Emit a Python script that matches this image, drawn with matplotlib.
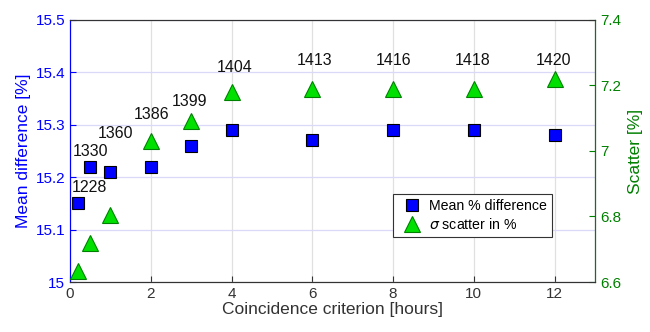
import matplotlib
matplotlib.use("Agg")
import matplotlib.pyplot as plt

plt.rcParams['font.family'] = ['Liberation Sans', 'DejaVu Sans']
plt.rcParams['mathtext.fontset'] = 'dejavusans'

# coincidence window in hours
hours = [0.2, 0.5, 1, 2, 3, 4, 6, 8, 10, 12]
mean_diff = [15.15, 15.22, 15.21, 15.22, 15.26, 15.29, 15.27, 15.29, 15.29, 15.28]
scatter = [6.635, 6.72, 6.805, 7.03, 7.09, 7.18, 7.19, 7.19, 7.19, 7.22]
# number of coincident pairs for each window
n_pairs = [1228, 1330, 1360, 1386, 1399, 1404, 1413, 1416, 1418, 1420]
label_x = [0.48, 0.5, 1.13, 2.02, 2.96, 4.07, 6.05, 8.0, 9.98, 11.98]
label_y = [15.166, 15.234, 15.269, 15.305, 15.33, 15.394, 15.408, 15.408, 15.408, 15.408]

blue = '#0000ff'
green = '#008000'

fig, ax = plt.subplots(figsize=(6.5, 3.32), dpi=100)
fig.subplots_adjust(left=0.1077, right=0.9154, top=0.94, bottom=0.1506)
ax2 = ax.twinx()

ax.set_xlim(0, 13)
ax.set_ylim(15, 15.5)
ax2.set_ylim(6.6, 7.4)
ax.set_xticks([0, 2, 4, 6, 8, 10, 12])
ax.set_yticks([15, 15.1, 15.2, 15.3, 15.4, 15.5])
ax.set_yticklabels(['15', '15.1', '15.2', '15.3', '15.4', '15.5'])
ax2.set_yticks([6.6, 6.8, 7.0, 7.2, 7.4])
ax2.set_yticklabels(['6.6', '6.8', '7', '7.2', '7.4'])

ax.xaxis.grid(True, color='#e0e0e0', linewidth=0.9)
ax.yaxis.grid(True, color='#dadaf8', linewidth=0.9)
ax.set_axisbelow(True)

h1, = ax.plot(hours, mean_diff, 's', ms=8, mfc=blue, mec='black', mew=0.8,
              label='Mean % difference', zorder=3)
h2, = ax2.plot(hours, scatter, '^', ms=11, mfc='#00e000', mec='#008000', mew=0.8,
               label=r'$\sigma$ scatter in %', zorder=3)

for x, y, n in zip(label_x, label_y, n_pairs):
    ax.text(x, y, str(n), ha='center', va='bottom', fontsize=11.5, color='#111111')

ax.set_xlabel('Coincidence criterion [hours]', fontsize=12.5, color='#333333', labelpad=1)
ax.set_ylabel('Mean difference [%]', fontsize=12.5, color=blue, labelpad=3)
ax2.set_ylabel('Scatter [%]', fontsize=12.5, color=green, labelpad=5)

ax.tick_params(axis='x', labelsize=11, colors='#333333', direction='in', length=4)
ax.tick_params(axis='y', labelsize=11, colors=blue, labelcolor=blue, direction='in', length=4)
ax2.tick_params(axis='y', labelsize=11, colors=green, labelcolor=green, direction='in', length=4)

ax.spines['left'].set_color(blue)
ax2.spines['left'].set_color(blue)
ax2.spines['right'].set_color(green)
for s in ['top', 'bottom']:
    ax.spines[s].set_color('#333333')
    ax2.spines[s].set_color('#333333')

leg = ax.legend([h1, h2], [h1.get_label(), h2.get_label()], loc='lower right',
                bbox_to_anchor=(0.918, 0.172), fontsize=10.2, frameon=True,
                fancybox=False, edgecolor='#333333', framealpha=1,
                handlelength=2.0, handletextpad=0.2, borderpad=0.35,
                labelspacing=0.3, borderaxespad=0)
leg.get_frame().set_linewidth(0.8)

fig.savefig('out.png', dpi=100)
